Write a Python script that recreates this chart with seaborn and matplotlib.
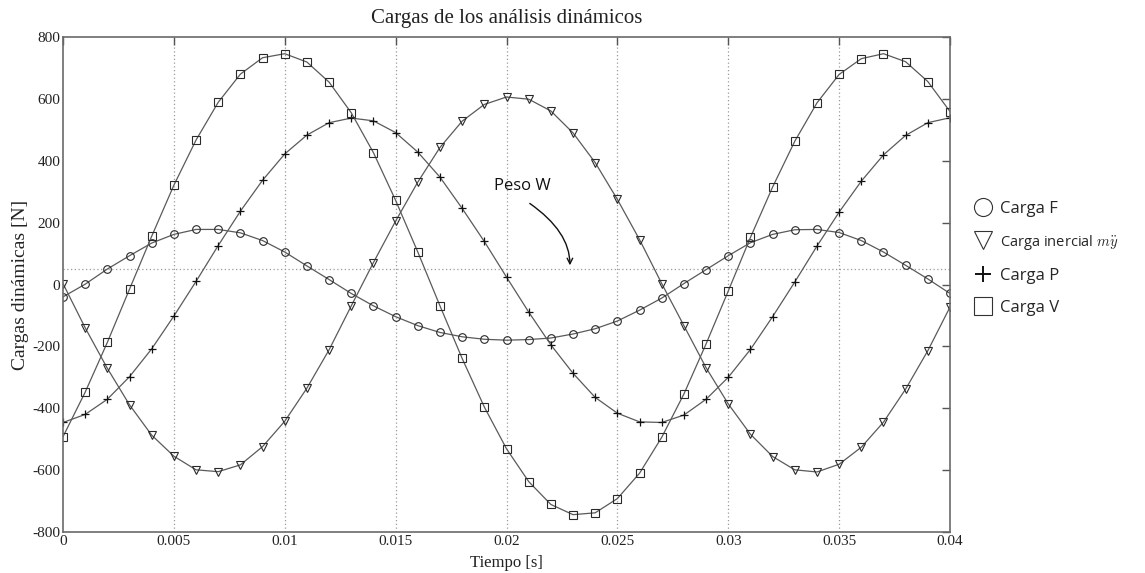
import numpy as np
import pandas as pd
import seaborn as sns
import matplotlib
matplotlib.use("Agg")
import matplotlib.pyplot as plt
from matplotlib.lines import Line2D

# Time samples [s]
tiempo = np.round(np.arange(0, 41) * 0.001, 3)

# Load series [N]
carga_F = [-40, 1, 50, 93, 134, 162, 178, 178, 167, 142, 105,
           60, 16, -29, -69, -104, -133, -155, -169, -177, -180,
           -178, -173, -160, -143, -118, -83, -44, 3, 48, 93,
           135, 162, 177, 178, 168, 142, 105, 62, 18, -29]
carga_inercial = [3, -140, -271, -389, -487, -555, -599, -605, -583, -524, -442,
                  -335, -211, -69, 71, 205, 331, 443, 528, 582, 606,
                  599, 561, 490, 394, 275, 145, 3, -133, -269, -386,
                  -484, -556, -599, -606, -581, -526, -445, -338, -214, -73]
carga_P = [-446, -420, -371, -298, -208, -102, 10, 126, 237, 337, 422,
           483, 523, 538, 529, 491, 428, 347, 246, 139, 24,
           -89, -195, -287, -365, -416, -444, -446, -422, -371, -300,
           -210, -104, 8, 124, 234, 334, 419, 482, 523, 539]
carga_V = [-492, -348, -187, -15, 156, 321, 467, 589, 680, 733, 746,
           719, 654, 555, 426, 272, 105, -69, -239, -396, -531,
           -637, -711, -744, -738, -692, -610, -494, -354, -192, -21,
           152, 315, 463, 587, 679, 730, 746, 720, 656, 559]

peso_W = 50

series_names = ["Carga F", "Carga inercial $m\\ddot{y}$", "Carga P", "Carga V"]
series_values = [carga_F, carga_inercial, carga_P, carga_V]
series_markers = ["o", "v", "+", "s"]

x_ticks = [0, 0.005, 0.01, 0.015, 0.02, 0.025, 0.03, 0.035, 0.04]
x_tick_labels = ["0", "0.005", "0.01", "0.015", "0.02", "0.025", "0.03", "0.035", "0.04"]
y_ticks = [-800, -600, -400, -200, 0, 200, 400, 600, 800]

sns.set_style("white")
plt.rcParams["font.family"] = ["Liberation Serif", "DejaVu Serif"]
plt.rcParams["mathtext.fontset"] = "cm"

fig = plt.figure(figsize=(11.45, 5.73), dpi=100)
ax = fig.add_axes([63 / 1145, 1 - 532 / 573, (950 - 63) / 1145, (532 - 37) / 573])

line_color = "#5a5a5a"
edge_color = "#2a2a2a"
for name, vals, mk in zip(series_names, series_values, series_markers):
    df = pd.DataFrame({"t": tiempo, "v": vals})
    kw = dict(markerfacecolor="none", markeredgecolor=edge_color,
              markeredgewidth=0.8, markersize=5.5)
    if mk == "+":
        kw.update(markersize=6, markeredgewidth=0.9, markeredgecolor="#111111")
    sns.lineplot(data=df, x="t", y="v", ax=ax, color=line_color, linewidth=0.9,
                 marker=mk, legend=False, **kw)

# Weight reference line and vertical dotted grid
ax.axhline(peso_W, color="#9a9a9a", linestyle=(0, (1, 2)), linewidth=0.9, zorder=0)
for xt in x_ticks[1:-1]:
    ax.axvline(xt, color="#9a9a9a", linestyle=(0, (1, 2)), linewidth=0.9, zorder=0)

ax.set_xlim(0, 0.04)
ax.set_ylim(-800, 800)
ax.set_xticks(x_ticks)
ax.set_xticklabels(x_tick_labels)
ax.set_yticks(y_ticks)
ax.set_yticklabels([str(v) for v in y_ticks])
ax.tick_params(direction="in", length=6, width=1.0, color="#555555",
               top=True, right=True, labelsize=11, pad=2, labelcolor="#222222")
for sp in ax.spines.values():
    sp.set_color("#6a6a6a")
    sp.set_linewidth(1.2)

ax.set_xlabel("Tiempo [s]", fontsize=12, labelpad=5, color="#222222")
ax.set_ylabel("Cargas dinámicas [N]", fontsize=14, labelpad=2, color="#222222")
ax.set_title("Cargas de los análisis dinámicos", fontsize=15, pad=10, color="#222222")

# Weight annotation
ax.text(0.0207, 320, "Peso W", ha="center", va="center", fontsize=12,
        family=["Open Sans", "DejaVu Sans"], color="#111111")
ax.annotate("", xy=(0.02286, 62), xytext=(0.02105, 262), textcoords="data",
            arrowprops=dict(arrowstyle="->", color="#111111", lw=1.0,
                            shrinkA=0, shrinkB=0,
                            connectionstyle="angle3,angleA=-35,angleB=90"))

# Legend to the right of the axes
handles = []
for mk in series_markers:
    if mk == "+":
        h = Line2D([], [], linestyle="none", marker="+", markersize=11,
                   markeredgewidth=1.4, color="#111111")
    else:
        h = Line2D([], [], linestyle="none", marker=mk, markersize=13,
                   markerfacecolor="none", markeredgecolor="#333333",
                   markeredgewidth=0.8)
    handles.append(h)
leg = fig.legend(handles, series_names, loc="upper left",
                 bbox_to_anchor=(960 / 1145, 1 - 186 / 573), frameon=False,
                 handlelength=1.0, handletextpad=0.5, labelspacing=0.95,
                 prop={"family": ["Open Sans", "DejaVu Sans"], "size": 12})
leg.get_texts()[1].set_fontsize(10.5)

fig.savefig("out.png", dpi=100, facecolor="white")
